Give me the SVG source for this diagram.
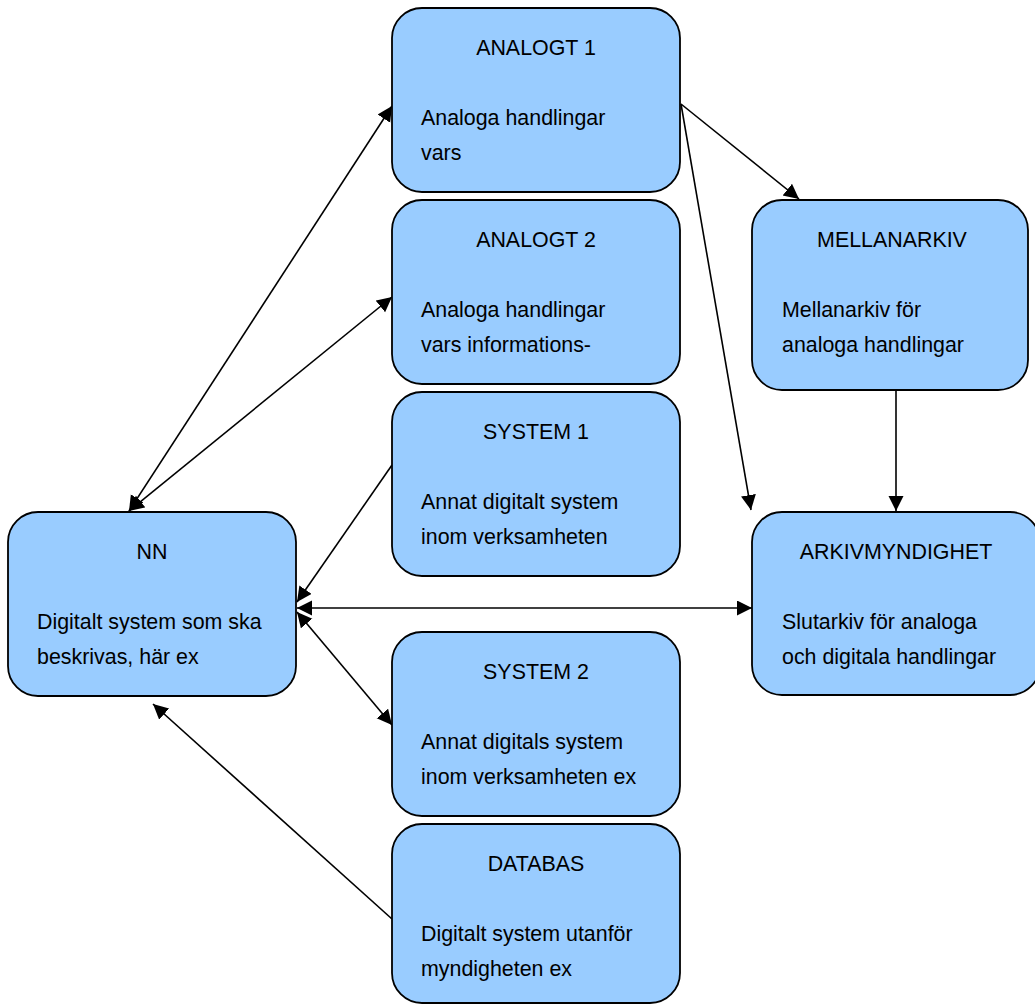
<svg xmlns="http://www.w3.org/2000/svg" width="1035" height="1005" viewBox="0 0 1035 1005">
<style>
.box{fill:#99CCFF;stroke:#000;stroke-width:1.8}
.t{font-family:"Liberation Sans",Arial,sans-serif;font-size:21.4px;fill:#000}
.c{text-anchor:middle}
.ln{stroke:#000;stroke-width:1.6;fill:none}
</style>
<defs>
<marker id="ah" markerUnits="userSpaceOnUse" markerWidth="16" markerHeight="16" viewBox="0 0 16 16" refX="15" refY="7.5" orient="auto-start-reverse">
<path d="M0,0 L15,7.5 L0,15 z" fill="#000"/>
</marker>
</defs>
<rect width="1035" height="1005" fill="#fff"/>
<g id="connectors">
<line class="ln" x1="129" y1="511" x2="392" y2="106" marker-start="url(#ah)" marker-end="url(#ah)"/>
<line class="ln" x1="129" y1="511" x2="392" y2="297" marker-start="url(#ah)" marker-end="url(#ah)"/>
<line class="ln" x1="392" y1="465" x2="297" y2="602" marker-end="url(#ah)"/>
<line class="ln" x1="297" y1="608" x2="752" y2="608" marker-start="url(#ah)" marker-end="url(#ah)"/>
<line class="ln" x1="297" y1="612" x2="392" y2="725" marker-start="url(#ah)" marker-end="url(#ah)"/>
<line class="ln" x1="392" y1="919" x2="153" y2="704" marker-end="url(#ah)"/>
<line class="ln" x1="681" y1="104" x2="799" y2="199" marker-end="url(#ah)"/>
<line class="ln" x1="681" y1="104" x2="751" y2="510" marker-end="url(#ah)"/>
<line class="ln" x1="896" y1="391" x2="896" y2="511" marker-end="url(#ah)"/>
</g>
<g id="analogt1">
<rect class="box" x="392" y="8" width="288" height="184" rx="30"/>
<text class="t c" x="536" y="55">ANALOGT 1</text>
<text class="t" x="421" y="125">Analoga handlingar</text>
<text class="t" x="421" y="160">vars</text>
</g>
<g id="analogt2">
<rect class="box" x="392" y="200" width="288" height="184" rx="30"/>
<text class="t c" x="536" y="247">ANALOGT 2</text>
<text class="t" x="421" y="317">Analoga handlingar</text>
<text class="t" x="421" y="352">vars informations-</text>
</g>
<g id="system1">
<rect class="box" x="392" y="392" width="288" height="184" rx="30"/>
<text class="t c" x="536" y="439">SYSTEM 1</text>
<text class="t" x="421" y="509">Annat digitalt system</text>
<text class="t" x="421" y="544">inom verksamheten</text>
</g>
<g id="system2">
<rect class="box" x="392" y="632" width="288" height="184" rx="30"/>
<text class="t c" x="536" y="679">SYSTEM 2</text>
<text class="t" x="421" y="749">Annat digitals system</text>
<text class="t" x="421" y="784">inom verksamheten ex</text>
</g>
<g id="databas">
<rect class="box" x="392" y="824" width="288" height="179" rx="30"/>
<text class="t c" x="536" y="871">DATABAS</text>
<text class="t" x="421" y="941">Digitalt system utanför</text>
<text class="t" x="421" y="976">myndigheten ex</text>
</g>
<g id="nn">
<rect class="box" x="8" y="512" width="288" height="184" rx="30"/>
<text class="t c" x="152" y="559">NN</text>
<text class="t" x="37" y="629">Digitalt system som ska</text>
<text class="t" x="37" y="664">beskrivas, här ex</text>
</g>
<g id="mellanarkiv">
<rect class="box" x="752" y="200" width="276" height="190" rx="30"/>
<text class="t c" x="892" y="247">MELLANARKIV</text>
<text class="t" x="782" y="317">Mellanarkiv för</text>
<text class="t" x="782" y="352">analoga handlingar</text>
</g>
<g id="arkivmyndighet">
<rect class="box" x="752" y="512" width="288" height="183" rx="30"/>
<text class="t c" x="896" y="559">ARKIVMYNDIGHET</text>
<text class="t" x="782" y="629">Slutarkiv för analoga</text>
<text class="t" x="782" y="664">och digitala handlingar</text>
</g>
</svg>
